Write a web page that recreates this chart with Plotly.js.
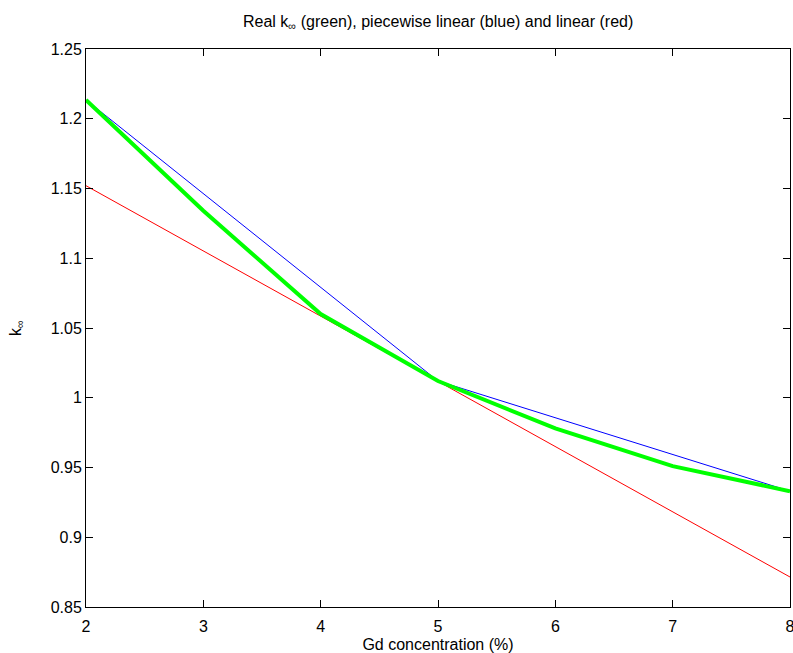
<!DOCTYPE html>
<html>
<head>
<meta charset="utf-8">
<script src="https://cdn.plot.ly/plotly-3.0.1.min.js"></script>
<style>html,body{margin:0;padding:0;background:#fff;}#chart{width:793px;height:653px;}</style>
</head>
<body>
<div id="chart"></div>
<script>
const gdConc = [2, 3, 4, 5, 6, 7, 8];
const realK = [1.2135, 1.134, 1.060, 1.012, 0.978, 0.951, 0.933];
const pwX = [2, 5, 8];
const pwK = [1.2135, 1.012, 0.933];
const linX = [2, 8];
const linK = [1.152, 0.8715];
const xTicks = [2, 3, 4, 5, 6, 7, 8];
const yTicks = [0.85, 0.9, 0.95, 1, 1.05, 1.1, 1.15, 1.2, 1.25];

const font = {family: '"Liberation Sans", Arial, Helvetica, sans-serif', size: 16, color: '#000'};

const data = [
  {x: pwX, y: pwK, mode: 'lines', line: {color: '#0000ff', width: 1}, hoverinfo: 'none'},
  {x: linX, y: linK, mode: 'lines', line: {color: '#ff0000', width: 1}, hoverinfo: 'none'},
  {x: gdConc, y: realK, mode: 'lines', line: {color: '#00ff00', width: 4}, hoverinfo: 'none'}
];

const axisCommon = {
  showgrid: false, zeroline: false, showline: true, linecolor: '#000', linewidth: 1,
  mirror: 'ticks', ticks: 'inside', ticklen: 7, tickcolor: '#000', tickwidth: 1,
  tickfont: font, ticklabeloverflow: 'allow'
};

const layout = {
  width: 793, height: 653,
  margin: {l: 86, r: 3, t: 49, b: 46},
  paper_bgcolor: '#fff', plot_bgcolor: '#fff',
  showlegend: false,
  font: font,
  title: {text: 'Real k<sub>∞</sub> (green), piecewise linear (blue) and linear (red)',
          font: font, x: 0.5525, xanchor: 'center', y: 1 - 21/653, yanchor: 'middle', yref: 'container'},
  xaxis: Object.assign({}, axisCommon, {
    range: [2, 8], tickvals: xTicks, ticktext: xTicks.map(String), ticklabelstandoff: 5,
    title: {text: 'Gd concentration (%)', font: font, standoff: 6}
  }),
  yaxis: Object.assign({}, axisCommon, {
    range: [0.85, 1.25], tickvals: yTicks, ticktext: yTicks.map(String),
    title: {text: 'k<sub>∞</sub>', font: font, standoff: 25}
  })
};

Plotly.newPlot('chart', data, layout, {staticPlot: true});
</script>
</body>
</html>
